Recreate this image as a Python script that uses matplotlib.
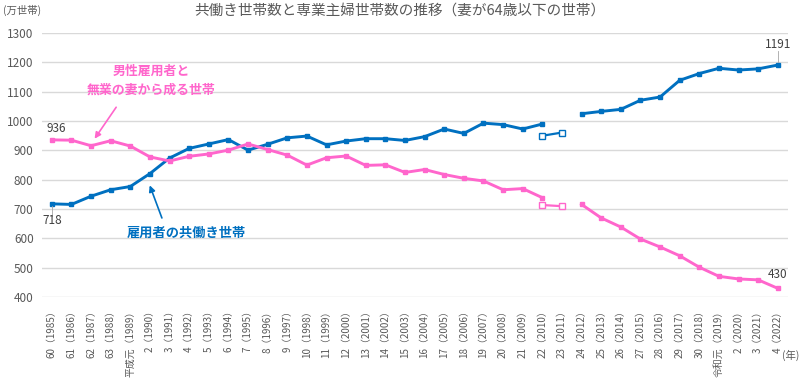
import numpy as np
import matplotlib
matplotlib.use('Agg')
import matplotlib.pyplot as plt

plt.rcParams['font.family'] = ['Noto Sans CJK JP', 'DejaVu Sans']

# data (万世帯)
eras = ['60', '61', '62', '63', '平成元', '2', '3', '4', '5', '6', '7', '8',
        '9', '10', '11', '12', '13', '14', '15', '16', '17', '18', '19',
        '20', '21', '22', '23', '24', '25', '26', '27', '28', '29', '30',
        '令和元', '2', '3', '4']
years = list(range(1985, 2023))

# 雇用者の共働き世帯 (2011 missing)
dual = [718, 716, 744, 766, 777, 821, 874, 907, 922, 937, 901, 921,
        943, 949, 919, 932, 940, 940, 934, 947, 973, 958, 993, 988,
        973, 990, np.nan, 1025, 1033, 1040, 1071, 1082, 1139, 1162,
        1180, 1174, 1178, 1191]
# 男性雇用者と無業の妻から成る世帯 (2011 missing)
single = [936, 935, 916, 933, 915, 878, 864, 880, 888, 901, 922, 903,
          884, 850, 875, 881, 849, 851, 825, 835, 818, 805, 796, 766,
          770, 739, np.nan, 716, 670, 639, 598, 571, 541, 502,
          471, 462, 459, 430]
# 2010-2011 values excluding the three disaster-hit prefectures
dual_alt = [950, 961]
single_alt = [714, 710]
alt_idx = [25, 26]

blue = '#0070C0'
pink = '#FF66CC'
grey = '#595959'

x = np.arange(len(years))
labels = [e + '（' + str(y) + '）' for e, y in zip(eras, years)]

fig = plt.figure(figsize=(8, 3.8), dpi=100)
ax = fig.add_axes([0.0525, 0.218, 0.932, 0.695])

ax.plot(x, dual, color=blue, lw=2.1, marker='s', ms=3.5)
ax.plot(x, single, color=pink, lw=2.1, marker='s', ms=3.5)
ax.plot(alt_idx, dual_alt, color=blue, lw=1.6, marker='s', ms=5,
        mfc='white', mec=blue, mew=1.0)
ax.plot(alt_idx, single_alt, color=pink, lw=1.6, marker='s', ms=5,
        mfc='white', mec=pink, mew=1.0)

ax.set_xlim(-0.5, len(years) - 0.5)
ax.set_ylim(400, 1300)
ax.set_yticks(range(400, 1301, 100))
ax.grid(axis='y', color='#D9D9D9', lw=1.0)
ax.set_axisbelow(True)
for s in ax.spines.values():
    s.set_visible(False)
ax.tick_params(axis='y', length=0, labelsize=8.5, labelcolor=grey, pad=6)
ax.set_xticks(x)
ax.set_xticklabels(labels, rotation=90, fontsize=7.1, color=grey)
ax.tick_params(axis='x', length=0, pad=6)

# end-point labels
ax.text(0.25, 975, str(single[0]), ha='center', va='center', fontsize=8.5, color='#404040')
ax.text(0, 662, str(dual[0]), ha='center', va='center', fontsize=8.5, color='#404040')
ax.plot([0, 0], [676, 712], color='#A6A6A6', lw=0.6)
ax.text(37, 1260, str(dual[-1]), ha='center', va='center', fontsize=8.5, color='#404040')
ax.plot([37, 37], [1200, 1240], color='#A6A6A6', lw=0.6)
ax.text(37, 476, str(single[-1]), ha='center', va='center', fontsize=8.5, color='#404040')

# series annotations
ax.text(5.05, 1140, '男性雇用者と\n無業の妻から成る世帯', ha='center', va='center',
        fontsize=9.3, color=pink, fontweight='bold', linespacing=1.4)
ax.annotate('', xy=(2.1, 932), xytext=(3.36, 1055),
            arrowprops=dict(arrowstyle='-|>', color=pink, lw=1.2, mutation_scale=9))
ax.text(6.85, 620, '雇用者の共働き世帯', ha='center', va='center',
        fontsize=9.5, color=blue, fontweight='bold')
ax.annotate('', xy=(4.94, 790), xytext=(5.66, 661),
            arrowprops=dict(arrowstyle='-|>', color=blue, lw=1.2, mutation_scale=9))

fig.text(0.5, 0.972, '共働き世帯数と専業主婦世帯数の推移（妻が64歳以下の世帯）',
         ha='center', va='center', fontsize=10.5, color=grey)
fig.text(0.004, 0.972, '(万世帯)', ha='left', va='center', fontsize=7.5, color=grey)
fig.text(0.999, 0.065, '(年)', ha='right', va='center', fontsize=7.5, color=grey)

fig.savefig('out.png', dpi=100)
